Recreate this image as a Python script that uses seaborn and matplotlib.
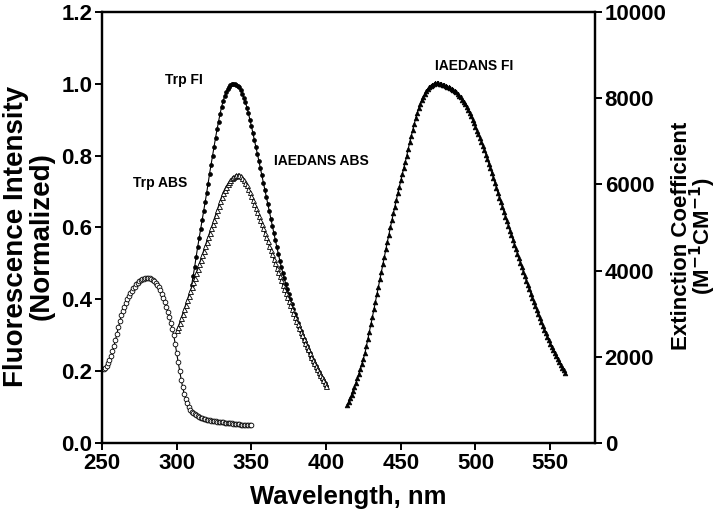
import matplotlib

matplotlib.use("Agg")

import matplotlib.pyplot as plt
import numpy as np
import seaborn as sns

# Trp absorbance (extinction coefficient, M-1 cm-1), 250-350 nm, 1 nm steps
trp_abs = [
    1710, 1725, 1750, 1790, 1850, 1930, 2020, 2130, 2250, 2390,
    2540, 2690, 2830, 2960, 3070, 3165, 3250, 3330, 3400, 3470,
    3530, 3585, 3630, 3680, 3720, 3755, 3780, 3800, 3810, 3822,
    3830, 3828, 3820, 3803, 3780, 3755, 3720, 3670, 3610, 3540,
    3460, 3370, 3270, 3160, 3040, 2920, 2790, 2650, 2500, 2300,
    2080, 1870, 1670, 1470, 1290, 1145, 1020, 920, 830, 770,
    725, 693, 667, 640, 617, 600, 583, 570, 558, 550,
    542, 533, 525, 521, 517, 508, 500, 496, 492, 487,
    483, 479, 475, 471, 467, 462, 458, 454, 450, 446,
    442, 437, 433, 429, 425, 421, 417, 417, 417, 412,
    408,
]
trp_abs_wl = np.arange(250, 250 + len(trp_abs))

# IAEDANS absorbance (extinction coefficient), 300-400 nm, 1 nm steps
iaedans_abs = [
    2620, 2700, 2790, 2895, 3000, 3105, 3210, 3315, 3420, 3520,
    3620, 3725, 3830, 3935, 4040, 4145, 4250, 4355, 4460, 4565,
    4670, 4775, 4880, 4980, 5080, 5185, 5290, 5395, 5500, 5605,
    5710, 5800, 5880, 5945, 6000, 6055, 6100, 6140, 6170, 6195,
    6210, 6215, 6210, 6185, 6150, 6100, 6040, 5975, 5900, 5820,
    5730, 5640, 5550, 5455, 5360, 5265, 5170, 5075, 4980, 4880,
    4780, 4680, 4580, 4480, 4380, 4275, 4170, 4070, 3970, 3870,
    3770, 3670, 3570, 3475, 3380, 3285, 3190, 3105, 3020, 2930,
    2840, 2755, 2670, 2585, 2500, 2415, 2330, 2250, 2170, 2085,
    2000, 1925, 1850, 1780, 1710, 1645, 1580, 1520, 1460, 1395,
    1330,
]
iaedans_abs_wl = np.arange(300, 300 + len(iaedans_abs))

# Trp fluorescence (normalized), 310-400 nm, 1 nm steps
trp_fl = [
    0.44, 0.465, 0.49, 0.518, 0.545, 0.57, 0.595, 0.62, 0.645, 0.67,
    0.695, 0.722, 0.75, 0.775, 0.80, 0.825, 0.85, 0.873, 0.895, 0.916,
    0.935, 0.951, 0.965, 0.976, 0.985, 0.992, 0.997, 0.999, 1.0, 0.999,
    0.998, 0.995, 0.99, 0.982, 0.972, 0.961, 0.948, 0.934, 0.918, 0.90,
    0.882, 0.863, 0.843, 0.824, 0.805, 0.785, 0.765, 0.745, 0.725, 0.705,
    0.685, 0.665, 0.645, 0.625, 0.605, 0.585, 0.565, 0.546, 0.527, 0.508,
    0.49, 0.474, 0.458, 0.443, 0.428, 0.414, 0.40, 0.386, 0.373, 0.36,
    0.348, 0.335, 0.323, 0.311, 0.30, 0.29, 0.28, 0.27, 0.26, 0.25,
    0.24, 0.231, 0.222, 0.213, 0.205, 0.197, 0.19, 0.182, 0.175, 0.167,
    0.16,
]
trp_fl_wl = np.arange(310, 310 + len(trp_fl))

# IAEDANS fluorescence (normalized), 414-560 nm, 1 nm steps
iaedans_fl = [
    0.105, 0.115, 0.125, 0.135, 0.145, 0.156,
    0.168, 0.18, 0.193, 0.206, 0.22, 0.235, 0.25, 0.27, 0.29, 0.31,
    0.33, 0.351, 0.372, 0.393, 0.414, 0.435, 0.456, 0.477, 0.498, 0.519,
    0.54, 0.56, 0.58, 0.60, 0.62, 0.639, 0.658, 0.677, 0.695, 0.713,
    0.731, 0.749, 0.766, 0.783, 0.80, 0.819, 0.838, 0.855, 0.872, 0.889,
    0.905, 0.919, 0.932, 0.944, 0.955, 0.964, 0.973, 0.98, 0.986, 0.991,
    0.995, 0.998, 1.0, 1.001, 1.002, 1.001, 1.0, 0.999, 0.998, 0.996,
    0.994, 0.992, 0.99, 0.988, 0.985, 0.983, 0.98, 0.976, 0.972, 0.967,
    0.962, 0.956, 0.95, 0.943, 0.935, 0.927, 0.918, 0.909, 0.90, 0.89,
    0.88, 0.87, 0.86, 0.849, 0.838, 0.827, 0.815, 0.803, 0.79, 0.778,
    0.765, 0.752, 0.738, 0.724, 0.71, 0.697, 0.683, 0.67, 0.656, 0.643,
    0.63, 0.617, 0.604, 0.591, 0.578, 0.565, 0.552, 0.54, 0.527, 0.515,
    0.502, 0.49, 0.477, 0.465, 0.452, 0.44, 0.428, 0.416, 0.404, 0.393,
    0.381, 0.37, 0.358, 0.347, 0.336, 0.326, 0.315, 0.305, 0.295, 0.286,
    0.276, 0.267, 0.258, 0.25, 0.241, 0.233, 0.225, 0.218, 0.21, 0.203,
    0.196,
]
iaedans_fl_wl = np.arange(414, 414 + len(iaedans_fl))

x_ticks = [250, 300, 350, 400, 450, 500, 550]
left_ticks = [0.0, 0.2, 0.4, 0.6, 0.8, 1.0, 1.2]
right_ticks = [0, 2000, 4000, 6000, 8000, 10000]

sns.set_style("ticks")
plt.rcParams["font.family"] = ["Liberation Sans", "DejaVu Sans"]
plt.rcParams["font.weight"] = "bold"
plt.rcParams["text.color"] = "black"
plt.rcParams["axes.labelcolor"] = "black"
plt.rcParams["xtick.color"] = "black"
plt.rcParams["ytick.color"] = "black"

figure = plt.figure(figsize=(7.2, 5.25), dpi=100)
axis = figure.add_axes([0.1417, 0.1562, 0.6847, 0.8210])
axis_right = axis.twinx()

line_kw = dict(color="black", linewidth=0.8, markeredgecolor="black")

sns.lineplot(x=trp_fl_wl, y=trp_fl, ax=axis, marker="o", markersize=2.8,
             markerfacecolor="black", markeredgewidth=0.5, **line_kw)
sns.lineplot(x=iaedans_fl_wl, y=iaedans_fl, ax=axis, marker="^", markersize=3.4,
             markerfacecolor="black", markeredgewidth=0.5, **line_kw)
sns.lineplot(x=trp_abs_wl, y=trp_abs, ax=axis_right, marker="o", markersize=3.4,
             markerfacecolor="white", markeredgewidth=0.6, **line_kw)
sns.lineplot(x=iaedans_abs_wl, y=iaedans_abs, ax=axis_right, marker="^", markersize=3.6,
             markerfacecolor="white", markeredgewidth=0.6, **line_kw)

axis.set_xlim(250, 580)
axis.set_ylim(0, 1.2)
axis_right.set_ylim(0, 10000)
axis.set_xticks(x_ticks)
axis.set_yticks(left_ticks)
axis.set_yticklabels([f"{v:.1f}" for v in left_ticks])
axis_right.set_yticks(right_ticks)
axis_right.set_yticklabels([str(v) for v in right_ticks])

for ax in (axis, axis_right):
    for spine in ax.spines.values():
        spine.set_linewidth(1.6)
        spine.set_color("black")
        spine.set_visible(True)
    ax.tick_params(direction="out", length=5, width=1.4, labelsize=16, pad=2)

axis.set_xlabel("Wavelength, nm", fontsize=18.5, fontweight="bold", labelpad=8)
axis.set_ylabel("Fluorescence Intensity\n(Normalized)", fontsize=20, fontweight="bold",
                linespacing=0.95)
axis.yaxis.set_label_coords(-0.097, 0.48)
axis_right.set_ylabel("Extinction Coefficient\n(M$^{\\mathbf{-1}}$CM$^{\\mathbf{-1}}$)",
                      fontsize=16, fontweight="bold", linespacing=0.8)
axis_right.yaxis.set_label_coords(1.155, 0.48)

text_kw = dict(fontsize=10, fontweight="bold", ha="center", va="center")
axis.text(288.8, 0.724, "Trp ABS", **text_kw)
axis.text(305, 1.01, "Trp FI", **text_kw)
axis.text(396.7, 0.785, "IAEDANS ABS", **text_kw)
axis.text(499, 1.05, "IAEDANS FI", **text_kw)

figure.savefig("out.png", dpi=100)
plt.close(figure)
